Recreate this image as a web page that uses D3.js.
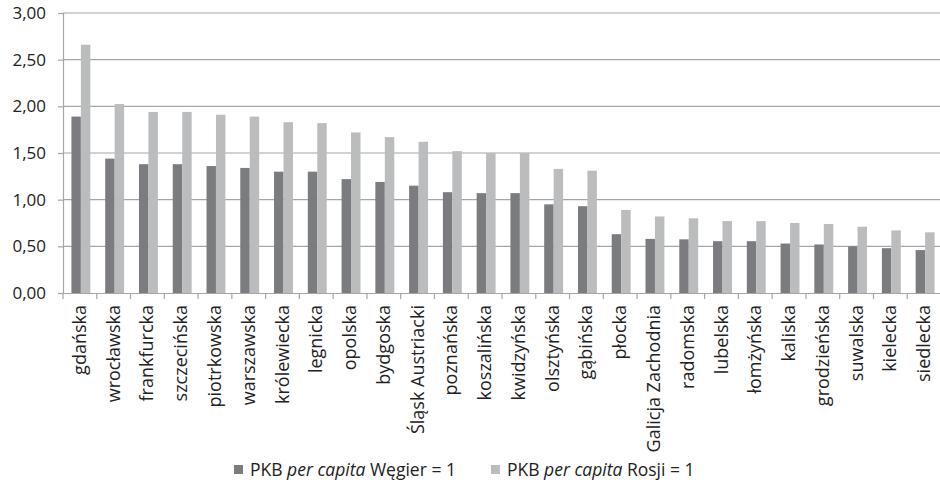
<!DOCTYPE html>
<html>
<head>
<meta charset="utf-8">
<script src="https://cdn.jsdelivr.net/npm/d3@7"></script>
<style>
  body { margin: 0; background: #fff; }
  text { font-family: "Open Sans", sans-serif; fill: #222; }
</style>
</head>
<body>
<script>
var regions = ["gdańska", "wrocławska", "frankfurcka", "szczecińska", "piotrkowska", "warszawska",
  "królewiecka", "legnicka", "opolska", "bydgoska", "Śląsk Austriacki", "poznańska", "koszalińska",
  "kwidzyńska", "olsztyńska", "gąbińska", "płocka", "Galicja Zachodnia", "radomska", "lubelska",
  "łomżyńska", "kaliska", "grodzieńska", "suwalska", "kielecka", "siedlecka"];

var hungary = [1.89, 1.44, 1.38, 1.38, 1.36, 1.34, 1.30, 1.30, 1.22, 1.19, 1.15, 1.08, 1.07,
  1.07, 0.95, 0.93, 0.63, 0.58, 0.575, 0.555, 0.555, 0.53, 0.52, 0.50, 0.48, 0.46];

var russia = [2.66, 2.025, 1.94, 1.94, 1.91, 1.89, 1.83, 1.82, 1.72, 1.67, 1.62, 1.52, 1.50,
  1.50, 1.33, 1.31, 0.89, 0.82, 0.80, 0.77, 0.77, 0.75, 0.74, 0.71, 0.67, 0.65];

var yTicks = [0, 0.5, 1, 1.5, 2, 2.5, 3];

var seriesNames = ["Węgier", "Rosji"];
var colors = ["#7b7c80", "#bbbcbe"];

var width = 940, height = 487;
var mLeft = 63, mRight = 941, mTop = 13, mBottom = 293;

var svg = d3.select("body").append("svg")
  .attr("width", width)
  .attr("height", height);

var x = d3.scaleBand().domain(regions).range([mLeft, mRight]);
var y = d3.scaleLinear().domain([0, 3]).range([mBottom, mTop]);

// gridlines
svg.selectAll("line.grid")
  .data(yTicks.slice(1))
  .enter().append("line")
  .attr("class", "grid")
  .attr("x1", mLeft).attr("x2", mRight)
  .attr("y1", function(d){ return y(d); })
  .attr("y2", function(d){ return y(d); })
  .attr("stroke", "#a6a6a6")
  .attr("stroke-width", 1.2);

// y axis
var yAxis = svg.append("g")
  .attr("transform", "translate(" + mLeft + ",0)")
  .call(d3.axisLeft(y).tickValues(yTicks).tickSize(5).tickPadding(12)
    .tickFormat(function(d){ return d3.format(".2f")(d).replace(".", ","); }));
yAxis.selectAll("path, line").attr("stroke", "#a6a6a6").attr("stroke-width", 1.2);
yAxis.selectAll("text").style("font-size", "17px").attr("fill", "#222");

// bars
var bw = x.bandwidth() * 0.28;
var groups = [hungary, russia];
groups.forEach(function(vals, s){
  svg.selectAll("rect.s" + s)
    .data(vals)
    .enter().append("rect")
    .attr("class", "s" + s)
    .attr("x", function(d, i){ return x(regions[i]) + x.bandwidth() / 2 - bw + s * bw + 1; })
    .attr("width", bw)
    .attr("y", function(d){ return y(d); })
    .attr("height", function(d){ return mBottom - y(d); })
    .attr("fill", colors[s]);
});

// x axis
var xAxis = svg.append("g")
  .attr("transform", "translate(0," + mBottom + ")")
  .call(d3.axisBottom(x).tickSize(0).tickFormat(""));
xAxis.select("path").attr("stroke", "#a6a6a6").attr("stroke-width", 1.2);

// category boundary ticks
var bounds = regions.map(function(r){ return x(r); }).concat([mRight]);
svg.selectAll("line.xt")
  .data(bounds)
  .enter().append("line")
  .attr("class", "xt")
  .attr("x1", function(d){ return d; }).attr("x2", function(d){ return d; })
  .attr("y1", mBottom).attr("y2", mBottom + 6)
  .attr("stroke", "#a6a6a6").attr("stroke-width", 1.2);

// rotated labels
svg.selectAll("text.xl")
  .data(regions)
  .enter().append("text")
  .attr("class", "xl")
  .attr("transform", function(d){
    return "translate(" + (x(d) + x.bandwidth() / 2 + 6) + "," + (mBottom + 12) + ") rotate(-90)";
  })
  .attr("text-anchor", "end")
  .style("font-size", "18px")
  .text(function(d){ return d; });

// legend
var legend = svg.append("g").attr("transform", "translate(0,476)");
var lx = [234, 491];
seriesNames.forEach(function(name, i){
  legend.append("rect")
    .attr("x", lx[i]).attr("y", -11)
    .attr("width", 9).attr("height", 9)
    .attr("fill", colors[i]);
  var t = legend.append("text")
    .attr("x", lx[i] + 16).attr("y", 0)
    .style("font-size", "17.5px");
  t.append("tspan").text("PKB ");
  t.append("tspan").style("font-style", "italic").text("per capita");
  t.append("tspan").text(" " + name + " = 1");
});
</script>
</body>
</html>
